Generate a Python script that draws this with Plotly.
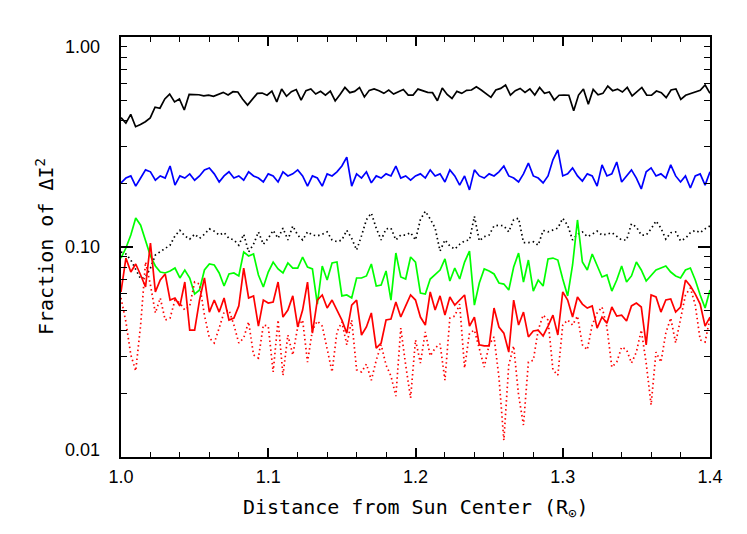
import numpy as np
import plotly.graph_objects as go

# ---- data (fraction of delta-I^2 vs distance) ----
black_solid = [0.413,0.389,0.428,0.374,0.383,0.395,0.412,0.463,0.458,0.507,0.535,0.491,0.507,0.449,0.533,0.533,0.531,0.524,0.529,0.522,0.533,0.545,0.529,0.549,0.547,0.505,0.474,0.507,0.539,
0.541,0.528,0.553,0.491,0.565,0.522,0.549,0.562,0.501,0.555,0.566,0.535,0.551,0.529,0.553,0.496,0.533,0.575,0.543,0.551,0.575,0.518,0.557,0.566,0.555,0.539,0.559,0.535,0.549,0.562,0.529,
0.529,0.565,0.553,0.545,0.543,0.497,0.572,0.533,0.510,0.551,0.539,0.557,0.559,0.580,0.559,0.535,0.516,0.559,0.569,0.591,0.529,0.555,0.569,0.545,0.566,0.529,0.575,0.539,0.547,0.501,
0.528,0.529,0.528,0.446,0.529,0.566,0.478,0.563,0.531,0.539,0.584,0.555,0.565,0.547,0.575,0.524,0.547,0.575,0.529,0.528,0.553,0.543,0.514,0.559,0.566,0.505,0.528,0.537,0.549,0.557,0.591,0.539]

blue = [0.202,0.213,0.218,0.195,0.213,0.233,0.228,0.208,0.218,0.213,0.243,0.197,0.218,0.213,0.223,0.208,0.218,0.233,0.238,0.223,
0.204,0.218,0.228,0.213,0.218,0.208,0.228,0.218,0.213,0.204,0.223,0.218,0.204,0.228,0.218,0.223,0.233,0.218,0.195,0.218,
0.213,0.195,0.223,0.218,0.228,0.243,0.268,0.195,0.223,0.213,0.228,0.202,0.218,0.213,0.223,0.218,0.243,0.213,0.218,0.208,
0.218,0.223,0.213,0.233,0.218,0.223,0.204,0.233,0.218,0.197,0.218,0.187,0.233,0.218,0.213,0.223,0.218,0.228,0.243,0.218,
0.213,0.204,0.223,0.251,0.218,0.213,0.202,0.218,0.260,0.290,0.218,0.223,0.238,0.218,0.206,0.223,0.218,0.195,0.246,0.218,
0.223,0.254,0.204,0.218,0.233,0.213,0.189,0.228,0.238,0.218,0.223,0.213,0.246,0.218,0.204,0.218,0.191,0.218,0.223,0.197,0.228]

black_dotted = [0.0947,0.0926,0.0867,0.0777,0.0705,0.0720,0.0794,0.0916,0.0947,0.0978,0.102,0.113,0.120,0.113,0.109,0.115,0.110,0.115,0.122,0.119,
0.114,0.117,0.110,0.108,0.102,0.115,0.0947,0.103,0.118,0.103,0.110,0.120,0.110,0.123,0.108,0.126,0.114,0.108,0.118,0.114,
0.113,0.115,0.118,0.108,0.106,0.108,0.120,0.110,0.0967,0.113,0.135,0.145,0.123,0.108,0.122,0.123,0.108,0.114,0.114,0.117,
0.108,0.135,0.148,0.136,0.123,0.0957,0.108,0.101,0.0978,0.103,0.107,0.108,0.140,0.107,0.112,0.114,0.126,0.127,0.126,0.118,
0.135,0.137,0.105,0.105,0.106,0.102,0.120,0.118,0.120,0.123,0.137,0.127,0.108,0.115,0.118,0.112,0.115,0.119,0.114,0.115,
0.117,0.112,0.108,0.108,0.129,0.1245,0.114,0.114,0.122,0.133,0.123,0.109,0.117,0.118,0.107,0.110,0.117,0.120,0.117,0.122,0.126]

green = [0.0886,0.0989,0.114,0.1375,0.127,0.108,0.0906,0.0812,0.0760,0.0752,0.0769,0.0794,0.0712,0.0777,0.0712,0.0597,0.0624,0.0777,0.0830,0.0821,
0.0752,0.0652,0.0744,0.0752,0.0728,0.0947,0.0906,0.0926,0.0736,0.0645,0.0760,0.0848,0.0786,0.0752,0.0839,0.0794,0.0794,0.0896,0.0803,0.0786,
0.0535,0.0812,0.0696,0.0839,0.0848,0.0585,0.0591,0.0572,0.0712,0.0712,0.0728,0.0830,0.0652,0.0659,0.0769,0.0559,0.0936,0.0720,0.0704,0.0896,
0.0848,0.0604,0.0597,0.0704,0.0736,0.0777,0.0877,0.0689,0.0794,0.0704,0.0848,0.0957,0.0529,0.0674,0.0786,0.0769,0.0744,0.0674,0.0666,0.0624,
0.0803,0.0936,0.0681,0.0867,0.0617,0.0696,0.0652,0.0877,0.0886,0.0867,0.0704,0.0585,0.0821,0.1345,0.0848,0.0777,0.0926,0.0821,0.0720,0.0736,
0.0617,0.0696,0.0812,0.0681,0.0728,0.0848,0.0777,0.0689,0.0736,0.0777,0.0794,0.0812,0.0760,0.0728,0.0712,0.0777,0.0794,0.0696,0.0591,0.0512,0.0624]

red_solid = [0.0611,0.0886,0.0760,0.0830,0.0736,0.0645,0.1045,0.0611,0.0696,0.0744,0.0559,0.0572,0.0524,0.0681,0.0402,0.0402,0.0559,0.0712,0.0490,0.0559,
0.0490,0.0572,0.0449,0.0459,0.0524,0.0794,0.0572,0.0585,0.0420,0.0559,0.0541,0.0547,0.0681,0.0464,0.0501,0.0585,0.0416,0.0501,0.0681,0.0389,
0.0559,0.0591,0.0512,0.0559,0.0501,0.0449,0.0389,0.0529,0.0559,0.0381,0.0416,0.0485,0.0330,0.0349,0.0449,0.0454,0.0547,0.0464,0.0524,0.0591,
0.0559,0.0464,0.0425,0.0611,0.0501,0.0585,0.0474,0.0578,0.0529,0.0559,0.0591,0.0420,0.0464,0.0342,0.0338,0.0338,0.0512,0.0416,0.0389,0.0316,
0.0559,0.0425,0.0490,0.0373,0.0398,0.0402,0.0377,0.0420,0.0474,0.0381,0.0611,0.0559,0.0464,0.0578,0.0535,0.0512,0.0524,0.0411,0.0464,0.0434,
0.0518,0.0469,0.0474,0.0444,0.0524,0.0541,0.0518,0.0342,0.0591,0.0578,0.0490,0.0559,0.0566,0.0490,0.0518,0.0696,0.0652,0.0597,0.0535,0.0420,0.0464]

red_dotted = [0.0572,0.0440,0.0306,0.0257,0.0425,0.0848,0.0659,0.0485,0.0572,0.0449,0.0459,0.0559,0.0541,0.0501,0.0524,0.0681,0.0666,0.0474,0.0369,0.0349,
0.0411,0.0490,0.0501,0.0425,0.0349,0.0369,0.0440,0.0306,0.0296,0.0425,0.0420,0.0254,0.0449,0.0245,0.0381,0.0306,0.0416,0.0449,0.0283,0.0402,
0.0444,0.0420,0.0327,0.0254,0.0394,0.0440,0.0342,0.0449,0.0260,0.0254,0.0277,0.0232,0.0289,0.0342,0.0274,0.0243,0.0195,0.0411,0.0274,0.0191,
0.0361,0.0280,0.0394,0.0303,0.0330,0.0346,0.0232,0.0459,0.0469,0.0535,0.0265,0.0389,0.0402,0.0330,0.0268,0.0342,0.0373,0.0240,0.0120,0.0274,
0.0338,0.0197,0.0142,0.0283,0.0289,0.0402,0.0474,0.0449,0.0260,0.0245,0.0425,0.0449,0.0425,0.0469,0.0342,0.0324,0.0425,0.0485,0.0518,0.0416,
0.0268,0.0283,0.0334,0.0324,0.0280,0.0316,0.0402,0.0280,0.0177,0.0316,0.0283,0.0389,0.0459,0.0349,0.0459,0.0591,0.0638,0.0529,0.0361,0.0353,0.0459]

x_range = [1.0, 1.4]
y_range = [0.01, 1.0]
x_ticks = [1.0, 1.1, 1.2, 1.3, 1.4]
x_ticklabels = ["1.0", "1.1", "1.2", "1.3", "1.4"]
y_ticks = [1.0, 0.1, 0.01]
y_ticklabels = ["1.00", "0.10", "0.01"]
y_label_shift = [-10, 0, 7]

x_minor = [round(1.0 + 0.02 * k, 2) for k in range(21)]
y_minor = [m * 10.0 ** e for e in (-2, -1) for m in range(2, 10)]

series = [
    (black_solid, "black", "solid"),
    (blue, "#0000ff", "solid"),
    (black_dotted, "black", "1.5px,3px"),
    (green, "#00ff00", "solid"),
    (red_solid, "#ff0000", "solid"),
    (red_dotted, "#ff0000", "1.5px,3px"),
]

fig = go.Figure()
for vals, col, dash in series:
    xs = np.linspace(x_range[0], x_range[1], len(vals))
    fig.add_trace(go.Scatter(x=xs, y=vals, mode="lines",
                             line=dict(color=col, width=1.7, dash=dash),
                             showlegend=False, hoverinfo="skip"))

tick_font = dict(family="Liberation Sans, Arial, sans-serif", size=18, color="black")
title_font = dict(family="DejaVu Sans Mono, monospace", size=20, color="black")

# page body adds an 8px offset; the figure is sized so the plot lands where the reference has it
fig.update_layout(
    width=739, height=526,
    margin=dict(l=113, r=37, t=29, b=77),
    paper_bgcolor="white", plot_bgcolor="white",
    showlegend=False,
)
fig.update_xaxes(
    range=x_range, showgrid=False, zeroline=False,
    showline=True, linecolor="black", linewidth=2, mirror="allticks",
    ticks="inside", ticklen=9, tickwidth=1.5, tickcolor="black",
    tickvals=x_ticks, ticktext=x_ticklabels, tickfont=tick_font,
    ticklabelstandoff=2,
    minor=dict(tickvals=x_minor, ticks="inside", ticklen=5, tickwidth=1.2, tickcolor="black", showgrid=False),
)
fig.update_yaxes(
    type="log", range=[np.log10(y_range[0]), np.log10(y_range[1])],
    showgrid=False, zeroline=False,
    showline=True, linecolor="black", linewidth=2, mirror="allticks",
    ticks="inside", ticklen=12, tickwidth=1.5, tickcolor="black",
    tickvals=y_ticks, showticklabels=False,
    minor=dict(tickvals=y_minor, ticks="inside", ticklen=6, tickwidth=1.2, tickcolor="black", showgrid=False),
)

for v, t, s in zip(y_ticks, y_ticklabels, y_label_shift):
    fig.add_annotation(x=0, xref="paper", y=np.log10(v), yref="y", text=t,
                       showarrow=False, xanchor="right", yanchor="middle",
                       xshift=-19, yshift=s, font=tick_font)

fig.add_annotation(x=0.5, xref="paper", y=-0.121, yref="paper",
                   text="Distance from Sun Center (R<sub>\u2299</sub>)",
                   showarrow=False, xanchor="center", yanchor="middle", font=title_font)
fig.add_annotation(x=-0.129, xref="paper", y=0.5, yref="paper",
                   text="Fraction of \u0394I<sup>2</sup>", textangle=-90,
                   showarrow=False, xanchor="center", yanchor="middle", font=title_font)

fig.write_html("out.html")
